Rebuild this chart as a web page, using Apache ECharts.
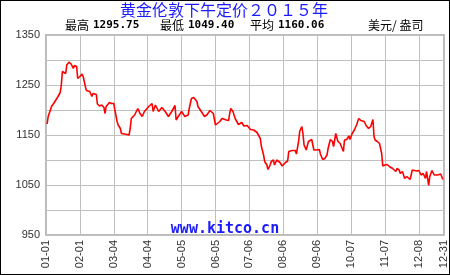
<!DOCTYPE html>
<html>
<head>
<meta charset="utf-8">
<script src="https://cdn.jsdelivr.net/npm/echarts@6/dist/echarts.min.js"></script>
<style>
html,body{margin:0;padding:0;background:#fff;}
#c{width:450px;height:275px;}
</style>
</head>
<body>
<div id="c"></div>
<script>
// ---- data ----
const dates = [
'01-02','01-03','01-05','01-06','01-08','01-10','01-12','01-14','01-15','01-16','01-17','01-19','01-20','01-22','01-24','01-26','01-27','01-29','01-30',
'02-01','02-03','02-04','02-06','02-07','02-10','02-12','02-13','02-16','02-17','02-19','02-21','02-23','02-24','02-25','02-28',
'03-02','03-04','03-05','03-07','03-08','03-10','03-11','03-14','03-18','03-19','03-20','03-23','03-26','03-28','03-30',
'04-01','04-05','04-08','04-09','04-11','04-14','04-17','04-20','04-23','04-26','04-29','04-30',
'05-02','05-05','05-08','05-11','05-12','05-14','05-16','05-17','05-19','05-20','05-23','05-26','05-28','05-31',
'06-01','06-03','06-05','06-06','06-09','06-11','06-12','06-15','06-17','06-18','06-19','06-21','06-23','06-26','06-29',
'07-01','07-04','07-07','07-10','07-13','07-14','07-16','07-17','07-19','07-20','07-22','07-23','07-25','07-26','07-28','07-29','07-31',
'08-03','08-05','08-08','08-10','08-11','08-14','08-17','08-18','08-20','08-21','08-23','08-24','08-25','08-27','08-29',
'09-01','09-03','09-05','09-08','09-09','09-11','09-13','09-15','09-16','09-18','09-20','09-21','09-23','09-25','09-27','09-30',
'10-01','10-03','10-05','10-06','10-08','10-10','10-12','10-14','10-16','10-19','10-21','10-23','10-25','10-27','10-28','10-29','10-31',
'11-02','11-04','11-05','11-07','11-09','11-11','11-14','11-17','11-18','11-20','11-21','11-23','11-25','11-27','11-30',
'12-01','12-02','12-06','12-08','12-10','12-12','12-14','12-15','12-17','12-18','12-20','12-22','12-25','12-28','12-30'
];
const prices = [
1172,1187,1200,1207,1213,1220,1227,1235,1250,1277,1275,1273,1290,1295.75,1292,1283,1289,1287,1263,
1267,1272,1267,1247,1239,1237,1227,1233,1231,1212,1208,1210,1205,1193,1207,1215,
1213,1213,1200,1177,1170,1163,1153,1152,1150,1163,1183,1190,1203,1193,1187,
1197,1207,1213,1197,1210,1197,1205,1197,1187,1197,1209,1180,
1187,1197,1187,1190,1203,1223,1225,1222,1217,1207,1197,1187,1190,1199,
1201,1193,1170,1167,1177,1183,1181,1180,1179,1193,1203,1197,1183,1171,1175,
1168,1169,1161,1160,1155,1157,1143,1127,1110,1097,1090,1081,1090,1097,1100,1090,1100,
1095,1088,1095,1098,1117,1119,1119,1112,1137,1157,1167,1153,1130,1120,1137,
1141,1120,1120,1121,1112,1101,1103,1110,1123,1141,1137,1127,1153,1137,1133,1117,
1140,1141,1148,1141,1153,1160,1170,1183,1179,1177,1168,1163,1167,1181,1147,1140,1137,
1133,1113,1088,1090,1091,1087,1083,1077,1083,1080,1073,1077,1063,1067,1061,
1057,1080,1078,1079,1070,1073,1063,1077,1049.4,1067,1079,1070,1070,1072,1061
];
const year = 2015;
const titleText = '黄金伦敦下午定价２０１５年';
const statHigh = '1295.75';
const statLow = '1049.40';
const statAvg = '1160.06';
const unitText = '美元/ 盎司';
const yLabelValues = [950, 1050, 1150, 1250, 1350];
const xTickStepDays = 31;
const watermark = 'www.kitco.cn';

// ---- helpers ----
const DAY = 86400000;
const base = Date.UTC(year, 0, 1);
function dayOf(md){ const p = md.split('-'); return Math.round((Date.UTC(year, +p[0]-1, +p[1]) - base)/DAY); }
function mdOf(d){ const t = new Date(base + d*DAY); const m = t.getUTCMonth()+1, dd = t.getUTCDate(); return (m<10?'0':'')+m+'-'+(dd<10?'0':'')+dd; }
const seriesData = dates.map((d,i)=>[dayOf(d), prices[i]]);
const lastDay = dayOf('12-31');

const chart = echarts.init(document.getElementById('c'), null, {renderer:'canvas'});
const labelColor = '#333';
const gridColor = '#c0c0c0';
chart.setOption({
  animation: false,
  backgroundColor: '#fff',
  grid: {left: 46, right: 6, top: 35, bottom: 40, show: true, borderColor: '#bbbbbb', borderWidth: 2, backgroundColor: 'transparent'},
  xAxis: {
    type: 'value', min: 0, max: lastDay, interval: xTickStepDays,
    axisLine: {show: false}, axisTick: {show: false},
    splitLine: {show: true, lineStyle: {color: gridColor, width: 1}},
    axisLabel: {rotate: 90, margin: 5, color: labelColor, fontFamily: 'Liberation Sans', fontSize: 11,
      showMinLabel: true, showMaxLabel: true, hideOverlap: false,
      formatter: v => mdOf(v)}
  },
  yAxis: {
    type: 'value', min: 950, max: 1350, interval: 50,
    axisLine: {show: false}, axisTick: {show: false},
    splitLine: {show: true, lineStyle: {color: gridColor, width: 1}},
    axisLabel: {margin: 6, color: labelColor, fontFamily: 'Liberation Sans', fontSize: 11,
      formatter: v => yLabelValues.indexOf(v) >= 0 ? String(v) : ''}
  },
  series: [{
    type: 'line', data: seriesData, showSymbol: false, symbol: 'none',
    lineStyle: {color: '#ff0000', width: 1.6}, z: 3
  }],
  graphic: [
    {type: 'rect', silent: true, z: 100, shape: {x: 0, y: 0, width: 450, height: 275},
     style: {fill: 'none', stroke: '#000', lineWidth: 2}},
    {type: 'text', z: 50, x: 224, y: 10, style: {text: titleText, fill: '#1a1aff', font: '16px "Noto Sans CJK SC"', textAlign: 'center', textVerticalAlign: 'middle'}},
    {type: 'text', z: 50, x: 65, y: 25, style: {text: '最高', fill: '#000', font: '12px "Noto Sans CJK SC"', textVerticalAlign: 'middle'}},
    {type: 'text', z: 50, x: 93, y: 25, style: {text: statHigh, fill: '#000', font: 'bold 11px "DejaVu Sans Mono"', textVerticalAlign: 'middle'}},
    {type: 'text', z: 50, x: 160, y: 25, style: {text: '最低', fill: '#000', font: '12px "Noto Sans CJK SC"', textVerticalAlign: 'middle'}},
    {type: 'text', z: 50, x: 188, y: 25, style: {text: statLow, fill: '#000', font: 'bold 11px "DejaVu Sans Mono"', textVerticalAlign: 'middle'}},
    {type: 'text', z: 50, x: 250, y: 25, style: {text: '平均', fill: '#000', font: '12px "Noto Sans CJK SC"', textVerticalAlign: 'middle'}},
    {type: 'text', z: 50, x: 278, y: 25, style: {text: statAvg, fill: '#000', font: 'bold 11px "DejaVu Sans Mono"', textVerticalAlign: 'middle'}},
    {type: 'text', z: 50, x: 368, y: 25, style: {text: unitText, fill: '#000', font: '12px "Noto Sans CJK SC"', textVerticalAlign: 'middle'}},
    {type: 'text', z: 50, x: 225, y: 229.5, style: {text: watermark, fill: '#1a1aff', font: 'bold 15px "DejaVu Sans Mono"', textAlign: 'center', textVerticalAlign: 'middle'}}
  ]
});
</script>
</body>
</html>
